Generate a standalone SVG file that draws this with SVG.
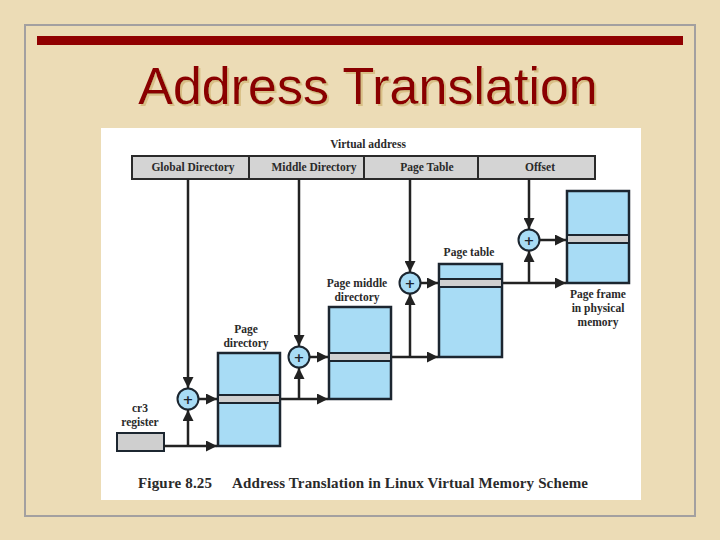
<svg xmlns="http://www.w3.org/2000/svg" width="720" height="540" viewBox="0 0 720 540">
<defs>
<style>
.lbl{font-family:"Liberation Serif","Times New Roman",serif;font-weight:bold;font-size:11.5px;fill:#2a2a2a;text-anchor:middle}
.bar{fill:#d4d4d4;stroke:#2a2a2a;stroke-width:2}
.tbl{fill:#a8dcf5;stroke:#1c2630;stroke-width:2.5}
.stripe{fill:#cfcfcf;stroke:#1c2630;stroke-width:2}
.conn{fill:none;stroke:#222;stroke-width:2.5}
.plus{fill:#a8dcf5;stroke:#1c2630;stroke-width:2}
.ptxt{font-family:"DejaVu Sans",sans-serif;font-weight:bold;font-size:13px;fill:#1c2630;text-anchor:middle}
.cap{font-family:"Liberation Serif","Times New Roman",serif;font-weight:bold;font-size:15px;fill:#2a2a2a}
</style>
<filter id="shadow" x="-5%" y="-20%" width="110%" height="140%">
<feOffset in="SourceAlpha" dx="2" dy="2" result="off"/>
<feFlood flood-color="#d8bf86"/>
<feComposite in2="off" operator="in" result="sh"/>
<feMerge><feMergeNode in="sh"/><feMergeNode in="SourceGraphic"/></feMerge>
</filter>
<marker id="ah" markerUnits="userSpaceOnUse" markerWidth="11" markerHeight="11" refX="11" refY="5.5" orient="auto">
<path d="M0,0 L11,5.5 L0,11 z" fill="#222"/>
</marker>
</defs>
<rect x="0" y="0" width="720" height="540" fill="#ecdcb6"/>
<rect x="25" y="25" width="670" height="491" fill="none" stroke="#a3a0a0" stroke-width="2"/>
<rect x="37" y="36" width="646" height="9" fill="#900000"/>
<g id="title">
<text x="368" y="104" font-family="Liberation Sans, Arial, sans-serif" font-size="52" fill="#8a0000" text-anchor="middle" filter="url(#shadow)">Address Translation</text>
</g>
<rect x="101" y="128" width="540" height="372" fill="#ffffff"/>
<g id="virtual-address">
<text class="lbl" x="368" y="148">Virtual address</text>
<rect class="bar" x="132" y="156" width="463" height="23"/>
<line x1="249" y1="156" x2="249" y2="179" stroke="#2a2a2a" stroke-width="2"/>
<line x1="364" y1="156" x2="364" y2="179" stroke="#2a2a2a" stroke-width="2"/>
<line x1="478" y1="156" x2="478" y2="179" stroke="#2a2a2a" stroke-width="2"/>
<text class="lbl" x="193" y="171">Global Directory</text>
<text class="lbl" x="314" y="171">Middle Directory</text>
<text class="lbl" x="427" y="171">Page Table</text>
<text class="lbl" x="540" y="171">Offset</text>
</g>
<g id="cr3">
<rect x="117" y="433" width="47" height="18" fill="#cfcfcf" stroke="#1c2630" stroke-width="2"/>
<text class="lbl" x="140" y="412">cr3</text>
<text class="lbl" x="140" y="426">register</text>
</g>
<g id="page-directory">
<rect class="tbl" x="218" y="353" width="62" height="93"/>
<rect class="stripe" x="218" y="395" width="62" height="8"/>
<text class="lbl" x="246" y="333">Page</text>
<text class="lbl" x="246" y="347">directory</text>
</g>
<g id="page-middle-directory">
<rect class="tbl" x="329" y="307" width="62" height="92"/>
<rect class="stripe" x="329" y="353" width="62" height="8"/>
<text class="lbl" x="357" y="287">Page middle</text>
<text class="lbl" x="357" y="301">directory</text>
</g>
<g id="page-table">
<rect class="tbl" x="439" y="264" width="63" height="93"/>
<rect class="stripe" x="439" y="279" width="63" height="8"/>
<text class="lbl" x="469" y="256">Page table</text>
</g>
<g id="page-frame">
<rect class="tbl" x="567" y="191" width="62" height="92"/>
<rect class="stripe" x="567" y="235" width="62" height="8"/>
<text class="lbl" x="598" y="298">Page frame</text>
<text class="lbl" x="598" y="312">in physical</text>
<text class="lbl" x="598" y="326">memory</text>
</g>
<g id="plus1"><circle class="plus" cx="188" cy="399" r="10.5"/><text class="ptxt" x="188" y="403.5">+</text></g>
<g id="plus2"><circle class="plus" cx="299" cy="357" r="10.5"/><text class="ptxt" x="299" y="361.5">+</text></g>
<g id="plus3"><circle class="plus" cx="410" cy="283" r="10.5"/><text class="ptxt" x="410" y="287.5">+</text></g>
<g id="plus4"><circle class="plus" cx="529" cy="240" r="10.5"/><text class="ptxt" x="529" y="244.5">+</text></g>
<g id="connectors">
<path class="conn" d="M188,179 V388" marker-end="url(#ah)"/>
<path class="conn" d="M164,446 H217" marker-end="url(#ah)"/>
<path class="conn" d="M188,446 V410" marker-end="url(#ah)"/>
<path class="conn" d="M198.5,399 H217" marker-end="url(#ah)"/>
<path class="conn" d="M281,399 H328" marker-end="url(#ah)"/>
<path class="conn" d="M299,399 V368" marker-end="url(#ah)"/>
<path class="conn" d="M299,179 V346" marker-end="url(#ah)"/>
<path class="conn" d="M309.5,357 H328" marker-end="url(#ah)"/>
<path class="conn" d="M392,357 H438" marker-end="url(#ah)"/>
<path class="conn" d="M410,357 V294" marker-end="url(#ah)"/>
<path class="conn" d="M410,179 V272" marker-end="url(#ah)"/>
<path class="conn" d="M420.5,283 H438" marker-end="url(#ah)"/>
<path class="conn" d="M503,283 H566" marker-end="url(#ah)"/>
<path class="conn" d="M529,283 V251" marker-end="url(#ah)"/>
<path class="conn" d="M529,179 V229" marker-end="url(#ah)"/>
<path class="conn" d="M539.5,240 H566" marker-end="url(#ah)"/>
</g>
<g id="caption">
<text class="cap" x="138" y="488" textLength="74" lengthAdjust="spacing">Figure 8.25</text>
<text class="cap" x="232" y="488" textLength="356" lengthAdjust="spacing">Address Translation in Linux Virtual Memory Scheme</text>
</g>
</svg>
